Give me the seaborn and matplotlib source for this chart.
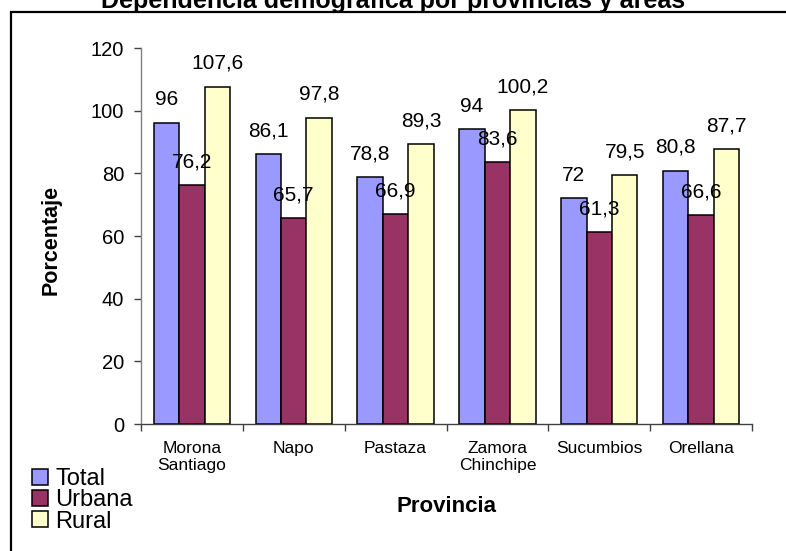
import matplotlib
matplotlib.use("Agg")
import matplotlib.pyplot as plt
from matplotlib.patches import Patch, Rectangle
import pandas as pd
import seaborn as sns

provincias = ["Morona\nSantiago", "Napo", "Pastaza", "Zamora\nChinchipe", "Sucumbios", "Orellana"]
total = [96, 86.1, 78.8, 94, 72, 80.8]
urbana = [76.2, 65.7, 66.9, 83.6, 61.3, 66.6]
rural = [107.6, 97.8, 89.3, 100.2, 79.5, 87.7]
areas = ["Total", "Urbana", "Rural"]
colores = ["#9999FF", "#993366", "#FFFFCC"]

df = pd.DataFrame({
    "Provincia": provincias * 3,
    "Area": ["Total"] * 6 + ["Urbana"] * 6 + ["Rural"] * 6,
    "valor": total + urbana + rural,
})

sns.set_theme(style="white")
plt.rcParams["font.family"] = ["Liberation Sans", "DejaVu Sans"]
plt.rcParams["text.color"] = "black"
plt.rcParams["xtick.color"] = "black"
plt.rcParams["ytick.color"] = "black"
plt.rcParams["axes.labelcolor"] = "black"

fig = plt.figure(figsize=(7.86, 5.51), dpi=100)
ax = fig.add_axes([141 / 786, 1 - 424 / 551, (752 - 141) / 786, (424 - 48) / 551])

sns.barplot(data=df, x="Provincia", y="valor", hue="Area", hue_order=areas,
            palette=colores, saturation=1, width=0.75, gap=0,
            edgecolor="black", linewidth=1.1, legend=False, ax=ax)

for cont in ax.containers:
    etiquetas = [f"{b.get_height():g}".replace(".", ",") for b in cont]
    ax.bar_label(cont, labels=etiquetas, padding=10, fontsize=15)

ax.set_xlim(-0.5, 5.5)
ax.set_ylim(0, 120)
ax.set_yticks(range(0, 121, 20))
ax.set_xticks([i - 0.5 for i in range(7)], minor=True)
ax.tick_params(axis="x", which="major", length=0, pad=12, labelsize=12.5)
ax.tick_params(axis="x", which="minor", length=5, width=1, color="#404040", direction="out", bottom=True)
ax.tick_params(axis="y", length=5, width=1, color="#404040", direction="out", left=True, pad=7, labelsize=14.5)
for s in ["top", "right"]:
    ax.spines[s].set_visible(False)
ax.spines["left"].set_color("#808080")
ax.spines["bottom"].set_color("#404040")
ax.spines["left"].set_linewidth(1)
ax.spines["bottom"].set_linewidth(1)

ax.set_xlabel("")
ax.set_ylabel("")
fig.text(51 / 786, 1 - 240 / 551, "Porcentaje", rotation=90, fontsize=15.5,
         fontweight="bold", ha="center", va="center")
fig.text(446 / 786, 1 - 506 / 551, "Provincia", fontsize=16,
         fontweight="bold", ha="center", va="center")
fig.text(393 / 786, 1 - 8 / 551, "Dependencia demográfica por provincias y áreas",
         fontsize=18, fontweight="bold", ha="center", va="baseline")

handles = [Patch(facecolor=c, edgecolor="black", linewidth=1.1) for c in colores]
fig.legend(handles, areas, loc="upper left", bbox_to_anchor=(32 / 786, 1 - 468 / 551),
           frameon=False, fontsize=17, handlelength=0.68, handleheight=0.68,
           handletextpad=0.3, labelspacing=-0.03, borderpad=0, borderaxespad=0)

fig.add_artist(Rectangle((11 / 786, -0.1), 1.2, 1.1 - 12 / 551, transform=fig.transFigure,
                         fill=False, edgecolor="black", linewidth=1.6, clip_on=False))

fig.savefig("out.png", dpi=100)
